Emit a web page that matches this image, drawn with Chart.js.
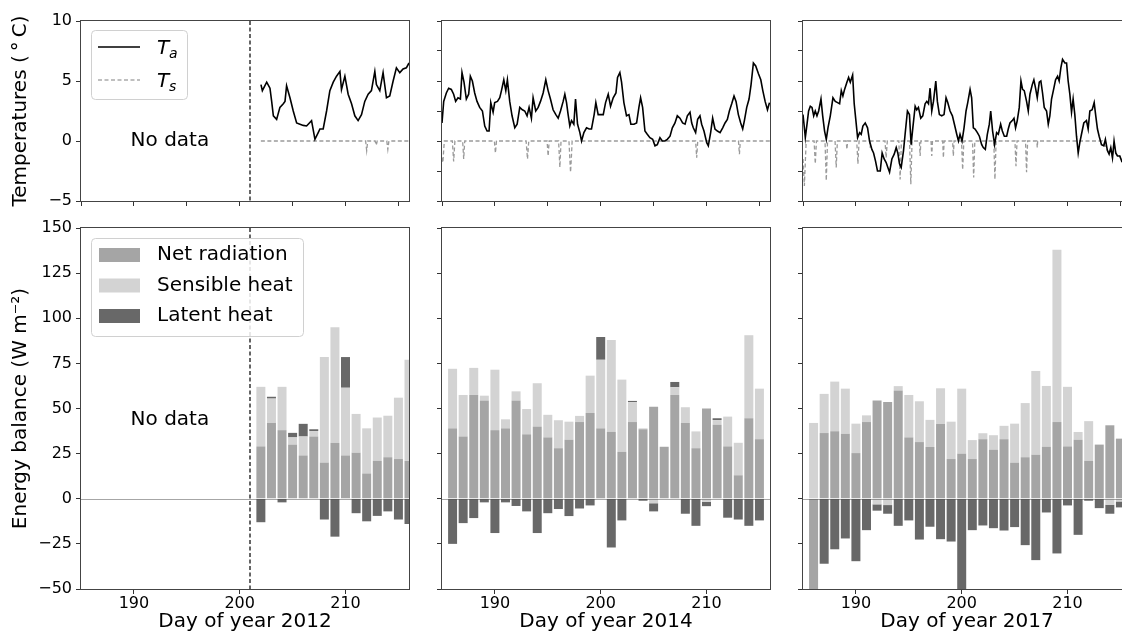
<!DOCTYPE html>
<html><head><meta charset="utf-8">
<script src="https://cdn.jsdelivr.net/npm/chart.js@4.4.1/dist/chart.umd.min.js"></script>
<style>
html,body{margin:0;padding:0;background:#fff;overflow:hidden;}
#wrap{position:relative;width:1122px;height:638px;overflow:hidden;background:#fff;}
canvas{position:absolute;}
</style></head><body><div id="wrap"></div>
<script>
// ---------------- DATA ----------------
const years = ['2012','2014','2017'];
const topXTicks = [185,190,195,200,205,210,215];
const botXTicks = [190,200,210];
const topYTicksLabeled = [-5,0,5,10];
const topYTicksFine = [-5,-2.5,0,2.5,5,7.5,10];
const botYTicks = [-50,-25,0,25,50,75,100,125,150];

// Air temperature Ta (°C)
const ta2012Day = [202.01,202.14,202.55,202.86,203.02,203.18,203.49,203.8,204.12,204.28,204.43,204.75,205.06,205.38,205.69,206.01,206.32,206.79,207.11,207.42,207.58,207.89,208.21,208.52,208.84,209.15,209.47,209.62,209.94,210.25,210.57,210.88,211.19,211.51,211.82,212.14,212.45,212.77,212.92,213.24,213.55,213.87,214.18,214.5,214.81,215.13,215.44,215.75,216.0];
const ta2012Val = [4.7,4.2,4.9,4.4,3.3,2.1,1.8,2.8,3.1,3.3,4.6,3.6,2.5,1.5,1.4,1.3,1.25,1.7,0.14,0.7,1.0,1.0,2.5,4.2,4.9,5.4,5.8,4.3,5.4,3.9,3.1,2.1,1.7,2.2,3.3,3.9,4.2,5.8,4.7,4.2,5.7,3.6,3.75,5.0,6.1,5.7,6.0,6.1,6.5];

const ta2014Day = [185.00,185.16,185.41,185.63,185.88,186.10,186.29,186.51,186.74,186.89,
187.08,187.30,187.52,187.68,187.87,188.09,188.31,188.56,188.82,189.04,
189.26,189.45,189.61,189.83,189.98,190.24,190.46,190.62,190.84,191.03,
191.18,191.40,191.62,191.88,192.10,192.35,192.60,192.82,193.04,193.23,
193.45,193.61,193.86,194.09,194.31,194.56,194.81,195.03,195.25,195.50,
195.76,195.98,196.20,196.45,196.61,196.77,196.92,197.08,197.24,197.46,
197.62,197.81,198.03,198.19,198.41,198.66,198.91,199.13,199.38,199.54,
199.76,199.98,200.24,200.46,200.71,200.93,201.18,201.44,201.59,201.81,
201.97,202.19,202.44,202.67,202.85,203.14,203.39,203.61,203.77,203.96,
204.18,204.40,204.65,204.91,205.13,205.35,205.60,205.82,206.07,206.29,
206.55,206.77,207.02,207.24,207.49,207.74,207.97,208.19,208.44,208.60,
208.75,208.97,209.16,209.38,209.54,209.76,210.02,210.17,210.39,210.58,
210.80,211.03,211.28,211.53,211.75,211.97,212.16,212.38,212.60,212.79,
213.01,213.23,213.42,213.58,213.80,214.02,214.21,214.43,214.65,214.91,
215.13,215.32,215.54,215.76,215.95];
const ta2014Val = [1.5,3.3,4.0,4.4,4.3,3.9,3.3,3.6,3.5,5.7,
4.9,3.5,3.9,5.4,5.0,4.0,3.3,2.8,2.5,1.25,
0.83,0.83,3.2,2.4,3.2,3.3,3.6,4.2,5.1,4.2,
5.1,3.3,2.1,1.1,1.4,2.8,2.6,2.5,2.1,2.8,
1.9,3.6,2.5,2.8,3.3,4.0,5.1,4.2,3.5,2.6,
2.2,1.9,2.5,3.3,3.9,3.2,2.2,1.25,1.7,1.4,
3.5,1.4,0.7,0.0,0.7,1.1,1.0,1.0,2.2,3.2,
2.2,2.2,2.2,3.2,3.9,2.9,3.6,4.0,5.3,5.7,
4.9,3.2,2.1,2.2,1.4,1.4,1.5,2.8,3.6,2.8,
0.83,0.56,0.28,0.14,-0.4,-0.3,0.28,0.0,0.0,0.14,
0.4,1.1,1.5,2.1,1.9,1.5,1.4,2.1,2.4,1.5,
1.1,0.7,1.8,2.1,1.4,0.83,-0.14,-0.4,0.7,1.9,
1.0,0.83,0.7,1.1,1.5,1.8,2.5,3.1,3.75,3.3,
2.2,1.5,1.0,1.7,2.8,3.5,4.7,6.5,6.25,5.6,
5.1,4.2,3.3,2.6,3.2];

const ta2017Day = [185.00,185.13,185.22,185.38,185.53,185.69,185.85,186.01,186.16,186.32,
186.48,186.70,186.86,187.04,187.20,187.36,187.58,187.83,188.05,188.27,
188.46,188.62,188.77,188.93,189.15,189.31,189.47,189.69,189.84,190.00,
190.16,190.35,190.50,190.66,190.88,191.10,191.29,191.51,191.67,191.86,
192.04,192.30,192.48,192.67,192.86,193.02,193.18,193.40,193.62,193.81,
193.96,194.12,194.28,194.50,194.65,194.87,195.06,195.22,195.38,195.60,
195.75,195.91,196.13,196.32,196.54,196.70,196.86,197.01,197.17,197.33,
197.55,197.70,197.89,198.11,198.33,198.52,198.68,198.90,199.12,199.31,
199.53,199.69,199.84,200.03,200.22,200.41,200.57,200.79,200.94,201.10,
201.26,201.48,201.67,201.89,202.04,202.23,202.42,202.61,202.74,202.92,
203.11,203.30,203.46,203.68,203.84,204.03,204.25,204.40,204.56,204.78,
204.94,205.09,205.25,205.44,205.60,205.75,205.91,206.13,206.29,206.45,
206.67,206.82,206.98,207.14,207.33,207.48,207.64,207.80,208.02,208.18,
208.33,208.49,208.71,208.87,209.06,209.21,209.37,209.53,209.75,209.91,
210.06,210.22,210.38,210.53,210.69,210.85,211.01,211.16,211.32,211.54,
211.79,211.95,212.11,212.33,212.52,212.67,212.83,212.99,213.21,213.43,
213.58,213.77,213.93,214.09,214.25,214.40,214.56,214.72,214.94,215.13,
215.5,216.0];
const ta2017Val = [2.2,1.1,0.28,1.4,2.5,2.9,2.8,2.1,2.5,2.1,
2.5,3.5,2.1,0.83,0.14,1.1,2.1,3.6,3.3,3.2,
3.1,4.2,3.75,4.3,4.9,5.3,4.9,5.5,3.1,1.7,
0.28,0.7,0.56,1.25,1.5,1.1,0,-0.7,-1.0,-1.7,
-2.5,-2.5,-1.0,-1.5,-1.8,-2.2,-2.6,-1.5,-1.1,-0.55,
-1.0,-1.9,-2.2,-0.8,0.56,2.5,2.2,-0.3,1.1,2.9,
2.6,2.8,1.9,2.1,3.1,3.3,3.1,4.4,2.5,3.3,
5.0,3.3,2.2,2.1,2.2,3.6,3.2,2.5,2.1,1.4,
0.56,0,0.56,0,1.1,2.5,3.2,4.3,3.6,1.1,
1.0,0.7,0.4,-0.3,-0.55,-0.7,0.56,1.4,2.5,0.83,
-0.3,0.7,0.56,1.4,0.83,0.4,0.4,1.0,1.5,1.7,
1.9,1.1,1.7,2.8,5.0,4.3,4.2,3.3,2.5,3.9,
4.7,5.1,4.4,3.6,4.9,5.0,4.0,2.8,2.5,1.4,
2.1,3.5,4.4,5.1,5.4,5.0,6.1,6.8,6.5,6.5,
5.0,3.9,2.4,3.5,2.2,0.4,-1.0,-0.14,0.56,1.5,
1.7,1.0,2.5,2.6,3.2,2.1,1.0,0.4,-0.3,-0.4,
0.14,-0.8,-1.1,-0.55,-1.4,0,-1.0,-1.25,-1.25,-1.7,
-1.5,-1.6];

// Surface temperature Ts (°C)
const ts2012Day = [202.0,211.9,212.0,212.1,212.8,212.9,213.0,213.9,214.0,214.1,216.0];
const ts2012Val = [0,0,-0.8,0,0,-0.35,0,0,-0.7,0,0];
const ts2014Day = [185.0,185.08,185.22,185.98,186.1,186.22,186.95,187.05,187.15,189.95,190.05,190.15,192.95,193.08,193.2,194.93,195.03,195.13,196.02,196.14,196.25,197.0,197.1,197.15,197.22,197.3,208.97,209.07,209.17,213.02,213.11,213.2,216.0];
const ts2014Val = [-1.4,-1.8,0,0,-1.7,0,0,-1.5,0,0,-1.0,0,0,-1.5,0,0,-1.25,0,0,-2.2,0,0,-1.8,-2.6,-1.5,0,0,-1.4,0,0,-1.1,0,0];
const ts2017Day = [185.0,185.13,185.3,186.05,186.16,186.27,187.08,187.2,187.32,188.03,188.14,188.25,189.08,189.15,189.22,190.08,190.19,190.3,191.3,191.35,191.4,192.75,192.86,192.97,194.06,194.18,194.3,195.07,195.19,195.31,196.0,196.07,196.14,197.1,197.17,197.24,198.2,198.27,198.34,199.14,199.21,199.28,199.98,200.09,200.2,201.02,201.13,201.24,203.03,203.14,203.25,205.03,205.13,205.23,206.03,206.13,206.23,207.1,207.14,207.18,213.3,213.5,213.8,213.93,214.09,214.25,214.4,214.56,214.72,214.94,215.13,216.0];
const ts2017Val = [-1.5,-3.75,0,0,-1.9,0,0,-3.3,0,0,-2.2,0,0,-0.7,0,0,-1.9,0,0,-0.55,0,0,-1.4,0,0,-3.2,0,0,-3.6,0,0,-1.25,0,0,-1.25,0,0,-1.4,0,0,-1.25,0,0,-2.4,0,0,-3.05,0,0,-3.2,0,0,-2.1,0,0,-2.6,0,0,-0.55,0,0,-0.3,-0.8,-1.1,-0.55,-1.4,-0.2,-1.0,-1.25,-1.25,-1.7,-1.5];

// Energy balance (W m-2), daily
const bar2012Day = [202,203,204,205,206,207,208,209,210,211,212,213,214,215,216];
const net2012  = [29,42,38,30,24,34.5,20,31,24,25.5,14,21,23,22,21];
const sens2012 = [33,13.5,24,4,10.5,3,58.5,64,37.5,21.5,25,24,23,34,56];
const lat2012  = [-13,1,-2,2.5,7,1,-11.5,-21,17,-8,-12.5,-9.5,-7,-11.5,-14];

const bar2014Day = [186,187,188,189,190,191,192,193,194,195,196,197,198,199,200,201,202,203,204,205,206,207,208,209,210,211,212,213,214,215];
const net2014  = [39,34.5,57.5,54.5,38,39,54.5,35.7,40,34,28,32.7,42.5,47.5,39,37,26,42.5,38.5,51,28.8,57.5,42,28,50,41,29,13,44.6,33];
const sens2014 = [33,23,15,2.6,33.5,5,5,14,24,12.5,15.5,10,3.4,20.7,38,51,40,11,0.5,-2.5,0,4.3,8.7,9.3,-1.7,2.6,16.5,18,46,28];
const lat2014  = [-25,-13.5,-10.7,-2,-19,-2,-4,-7,-19,-8,-5.7,-9.6,-5.4,-3.7,12.6,-27,-12,0.7,-1.1,-4.5,0,2.9,-8.3,-15,-2.4,1,-10.5,-11.5,-15,-12];

const bar2017Day = [186,187,188,189,190,191,192,193,194,195,196,197,198,199,200,201,202,203,204,205,206,207,208,209,210,211,212,213,214,215];
const net2017  = [-55,36.4,37.4,36,25.3,42.5,54.4,53.6,60,34,31.4,28.7,41.4,22,25,22,33,27.2,33,20,23,24.4,28.8,42.5,29,32.7,21,30,40.7,33.3];
const sens2017 = [42,21.7,27.5,25,16.3,3.7,-3.1,-3.5,2.4,23.5,22.6,15,19.8,20.7,36,10.5,3.3,8,7.4,21.6,30,46.4,33.7,95.4,33,4.3,22,0,-3.3,-1.5];
const lat2017  = [-5,-36,-28,-22,-34.6,-17.4,-3.5,-4.8,-15,-12,-22.6,-15.5,-22.4,-23.7,-52,-17.4,-14.8,-16.3,-17.6,-15.7,-25.7,-34,-7.6,-30.3,-3.7,-20,-1.1,-5.2,-5,-3.3];

const seriesNames = ['Net radiation','Sensible heat','Latent heat'];
const seriesColors = ['#a5a5a5','#d3d3d3','#686868'];

// ---------------- LAYOUT ----------------
const FONT = "'DejaVu Sans', sans-serif";
Chart.defaults.font.family = FONT;
Chart.defaults.color = '#000';
const X_MIN = 185, X_MAX = 216;
const COLS = [{left:0, yw:81},{left:432, yw:10},{left:793, yw:10}];
const PLOT_W = 328, PAD_R = 3;
const ROWS = {top:{top:0,h:208,padTop:21,xh:7}, bot:{top:210,h:428,padTop:18,xh:49}};

const xy = (xs, ys) => xs.map((x,i)=>({x:x, y:ys[i]}));
const fmt = v => v < 0 ? '\u2212' + Math.abs(v) : String(v);
const noPad = s => { s.paddingTop = 0; s.paddingBottom = 0; s.paddingLeft = 0; s.paddingRight = 0; };

function mkCanvas(col,row){
  const c = document.createElement('canvas');
  const w = COLS[col].yw + PLOT_W + PAD_R;
  c.width = w; c.height = ROWS[row].h;
  c.style.left = COLS[col].left+'px'; c.style.top = ROWS[row].top+'px';
  c.style.width = w+'px'; c.style.height = ROWS[row].h+'px';
  document.getElementById('wrap').appendChild(c);
  return c;
}

function opts(col,row,o){
  return {
    responsive:false, animation:false, devicePixelRatio:1, events:[],
    layout:{padding:{top:ROWS[row].padTop, right:PAD_R, left:0, bottom:0}},
    plugins:{legend:{display:false}, tooltip:{enabled:false}},
    scales:{
      x:{ type:'linear', min:X_MIN, max:X_MAX, offset:false, stacked:!!o.stacked,
        afterBuildTicks:s=>{ s.ticks = o.xTicks.map(v=>({value:v})); },
        afterFit:s=>{ s.height = ROWS[row].xh; noPad(s); },
        border:{display:false},
        grid:{display:true, offset:false, drawOnChartArea:false, drawTicks:true, tickLength:5, tickColor:'#333', tickWidth:1},
        ticks:{display:!!o.xLabels, padding:0, font:{size:16}, color:'#000', maxRotation:0, autoSkip:false, callback:v=>String(v)},
        title:{display:!!o.xTitle, text:o.xTitle||'', font:{size:20}, color:'#000', padding:{top:0,bottom:4}}
      },
      y:{ type:'linear', min:o.yMin, max:o.yMax, stacked:!!o.stacked,
        afterBuildTicks:s=>{ s.ticks = o.yTicks.map(v=>({value:v})); },
        afterFit:s=>{ s.width = COLS[col].yw; noPad(s); },
        border:{display:false},
        grid:{display:true, drawOnChartArea:false, drawTicks:true, tickLength:5, tickColor:'#333', tickWidth:1},
        ticks:{display:!!o.yLabels, padding:4, font:{size:16}, color:'#000', callback:fmt},
        title:{display:!!o.yTitle, text:o.yTitle||'', font:{size:20}, color:'#000', padding:{top:9,bottom:0}}
      }
    }
  };
}

function legendBox(ctx,x,y,w,h){
  ctx.beginPath(); ctx.roundRect(x+0.5,y+0.5,w,h,4);
  ctx.fillStyle='rgba(255,255,255,0.85)'; ctx.fill();
  ctx.strokeStyle='#d0d0d0'; ctx.lineWidth=1; ctx.stroke();
}
function topLegend(ctx, chart){
  legendBox(ctx,91,30,96,69);
  const ds = chart.data.datasets;
  ctx.strokeStyle=ds[0].borderColor; ctx.lineWidth=1.6; ctx.setLineDash([]);
  ctx.beginPath(); ctx.moveTo(98,47); ctx.lineTo(140,47); ctx.stroke();
  ctx.strokeStyle='#aaaaaa'; ctx.lineWidth=1.3; ctx.setLineDash([4,2.5]);
  ctx.beginPath(); ctx.moveTo(98,80); ctx.lineTo(140,80); ctx.stroke(); ctx.setLineDash([]);
  ctx.fillStyle='#000'; ctx.textAlign='left'; ctx.textBaseline='alphabetic';
  ctx.font='italic 20px '+FONT; ctx.fillText('T',157,54); ctx.fillText('T',157,87);
  ctx.font='italic 14px '+FONT; ctx.fillText('a',169,58); ctx.fillText('s',169,91);
}
function botLegend(ctx){
  legendBox(ctx,91,28,212,98);
  const ys=[45,75.5,106];
  ctx.textAlign='left'; ctx.textBaseline='middle'; ctx.font='20px '+FONT;
  for(let i=0;i<3;i++){
    ctx.fillStyle=seriesColors[i]; ctx.fillRect(99,ys[i]-7,41,14);
    ctx.fillStyle='#000'; ctx.fillText(seriesNames[i],157,ys[i]);
  }
}

function deco(o){
  return {id:'deco', afterDatasetsDraw(chart){
    const {ctx, chartArea:a, scales:{x,y}} = chart;
    ctx.save();
    if (o.zeroLine){
      const py=Math.round(y.getPixelForValue(0))+0.5;
      ctx.strokeStyle='rgba(0,0,0,0.35)'; ctx.lineWidth=1;
      ctx.beginPath(); ctx.moveTo(a.left,py); ctx.lineTo(a.right,py); ctx.stroke();
    }
    if (o.vline!=null){
      const px=Math.round(x.getPixelForValue(o.vline));
      ctx.strokeStyle='#333'; ctx.lineWidth=1.5; ctx.setLineDash([4,2.5]);
      ctx.beginPath(); ctx.moveTo(px,a.top); ctx.lineTo(px,a.bottom); ctx.stroke(); ctx.setLineDash([]);
    }
    if (o.noData){
      ctx.fillStyle='#000'; ctx.font='20px '+FONT; ctx.textAlign='center'; ctx.textBaseline='middle';
      ctx.fillText('No data', x.getPixelForValue(o.noData[0]), y.getPixelForValue(o.noData[1]));
    }
    ctx.strokeStyle='#444'; ctx.lineWidth=1;
    ctx.strokeRect(a.left-0.5, a.top-0.5, a.right-a.left+1, a.bottom-a.top+1);
    if (o.legend) o.legend(ctx, chart);
    ctx.restore();
  }};
}

// ---------------- TOP ROW ----------------
const taDays=[ta2012Day,ta2014Day,ta2017Day], taVals=[ta2012Val,ta2014Val,ta2017Val];
const tsDays=[ts2012Day,ts2014Day,ts2017Day], tsVals=[ts2012Val,ts2014Val,ts2017Val];
for (let c=0;c<3;c++){
  const cv = mkCanvas(c,'top');
  new Chart(cv, {
    type:'line',
    data:{datasets:[
      {label:'Ta', data:xy(taDays[c],taVals[c]), borderColor:'#000', borderWidth:1.6, pointRadius:0, tension:0, fill:false},
      {label:'Ts', data:xy(tsDays[c],tsVals[c]), borderColor:'#9a9a9a', borderWidth:1.3, borderDash:[4,2.5], pointRadius:0, tension:0, fill:false}
    ]},
    options: opts(c,'top',{yMin:-5,yMax:10,yTicks:c===0?topYTicksLabeled:topYTicksFine,yLabels:c===0,
      yTitle:c===0?'Temperatures (\u2009\u00B0\u2009C)':'', xTicks:topXTicks, xLabels:false}),
    plugins:[deco({vline:c===0?201:null, noData:c===0?[193.4,0]:null, legend:c===0?topLegend:null})]
  });
}

// ---------------- BOTTOM ROW ----------------
const barDays=[bar2012Day,bar2014Day,bar2017Day];
const barSeries=[[net2012,sens2012,lat2012],[net2014,sens2014,lat2014],[net2017,sens2017,lat2017]];
for (let c=0;c<3;c++){
  const cv = mkCanvas(c,'bot');
  new Chart(cv, {
    type:'bar',
    data:{datasets: barSeries[c].map((vals,i)=>({
      label:seriesNames[i], data:xy(barDays[c],vals), backgroundColor:seriesColors[i],
      borderWidth:0, barPercentage:0.85, categoryPercentage:1
    }))},
    options: opts(c,'bot',{yMin:-50,yMax:150,yTicks:botYTicks,yLabels:c===0,
      yTitle:c===0?'Energy balance (W m\u207B\u00B2)':'', xTicks:botXTicks, xLabels:true,
      xTitle:'Day of year '+years[c], stacked:true}),
    plugins:[deco({zeroLine:true, vline:c===0?201:null, noData:c===0?[193.4,44]:null, legend:c===0?botLegend:null})]
  });
}
</script>
</body></html>
